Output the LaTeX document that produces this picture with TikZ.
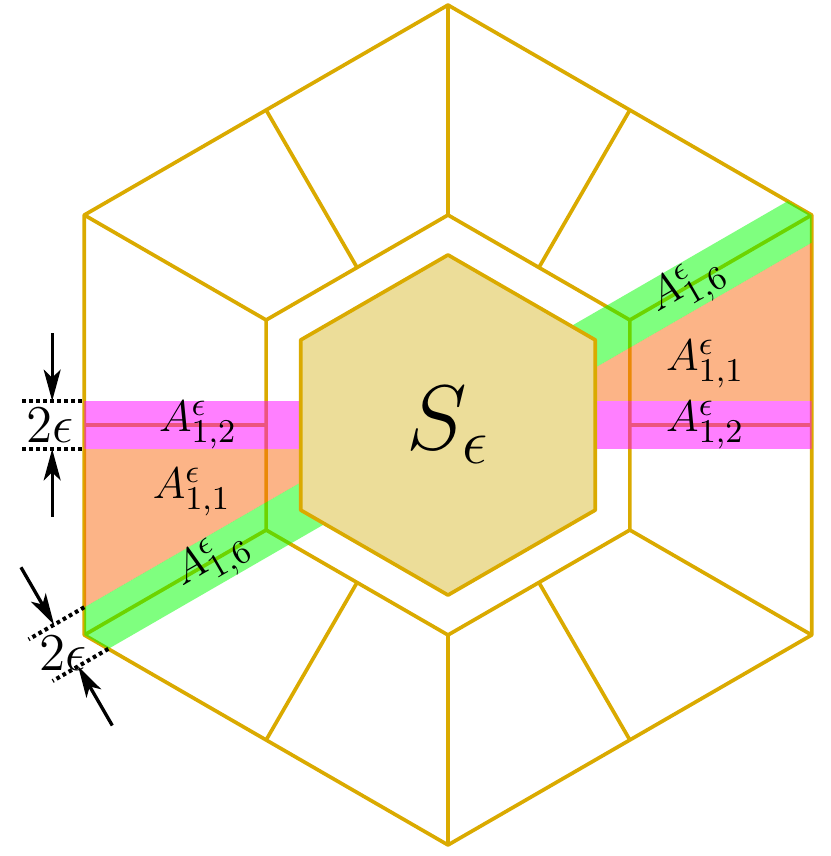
\documentclass[tikz,border=0pt]{standalone}
\usetikzlibrary{arrows.meta,calc}
\definecolor{gold}{RGB}{218,170,0}
\definecolor{hexfill}{RGB}{236,221,153}
\definecolor{bandpink}{RGB}{255,0,255}
\definecolor{bandgreen}{RGB}{0,255,0}
\definecolor{bandorange}{RGB}{250,105,15}
\begin{document}
\begin{tikzpicture}[x=1cm,y=1cm,
  edge/.style={draw=gold,line width=1pt,line join=round},
  dimline/.style={line width=1.1pt,dash pattern=on 1pt off 0.9pt},
  dimarrow/.style={line width=0.9pt,-{Stealth[length=8.5pt,width=4.6pt,inset=2.2pt]}},
  lab/.style={font=\fontsize{12.5}{14}\selectfont,inner sep=0pt},
  dimlab/.style={font=\fontsize{15.5}{17}\selectfont,inner sep=0pt},
]
\useasboundingbox (-4.267,-4.105) rectangle (3.648,4.048);
\def\eps{0.229}
% vertices
\foreach \a/\b [count=\i] in {90/60,30/0,-30/-60,-90/-120,-150/180,150/120} {
  \coordinate (O\i) at (\a:4);
  \coordinate (M\i) at (\a:2);
  \coordinate (I\i) at (\a:1.62);
  \coordinate (OE\i) at (\b:3.4641);
  \coordinate (ME\i) at (\b:1.7321);
}
% frame lines
\draw[edge] (O1)--(O2)--(O3)--(O4)--(O5)--(O6)--cycle;
\draw[edge] (M1)--(M2)--(M3)--(M4)--(M5)--(M6)--cycle;
\foreach \i in {1,...,6} {
  \draw[edge] (O\i)--(M\i);
  \draw[edge] (OE\i)--(ME\i);
}
% bands
\begin{scope}
  \clip (O1)--(O2)--(O3)--(O4)--(O5)--(O6)--cycle;
  \fill[bandpink,fill opacity=0.5] (-4.5,-\eps) rectangle (4.5,\eps);
  \fill[bandgreen,fill opacity=0.5,rotate=30] (-4.5,-\eps) rectangle (4.5,\eps);
\end{scope}
\fill[bandorange,fill opacity=0.5] (3.732*\eps,\eps) -- (3.4641,\eps) -- (3.4641,2-1.1547*\eps) -- cycle;
\fill[bandorange,fill opacity=0.5] (-3.732*\eps,-\eps) -- (-3.4641,-\eps) -- (-3.4641,-2+1.1547*\eps) -- cycle;
% inner hexagon
\filldraw[fill=hexfill,edge] (I1)--(I2)--(I3)--(I4)--(I5)--(I6)--cycle;
\node[font=\fontsize{24.5}{28}\selectfont,inner sep=0pt] (S) at (0,0) {$S_\epsilon$};
% labels
\node[lab] (a12l) at (-2.38,0) {$A^\epsilon_{1,2}$};
\node[lab] (a11l) at (-2.44,-0.64) {$A^\epsilon_{1,1}$};
\node[lab,rotate=30] (a16l) at (-2.24,-1.30) {$A^\epsilon_{1,6}$};
\node[lab,rotate=30] (a16r) at (2.29,1.31) {$A^\epsilon_{1,6}$};
\node[lab] (a11r) at (2.45,0.58) {$A^\epsilon_{1,1}$};
\node[lab] (a12r) at (2.45,0) {$A^\epsilon_{1,2}$};
% horizontal dimension
\coordinate (hu1) at (-4.057,\eps); \coordinate (hu2) at (-3.4641,\eps);
\coordinate (hl1) at (-4.057,-\eps); \coordinate (hl2) at (-3.4641,-\eps);
\draw[dimline] (hu1) -- (hu2);
\draw[dimline] (hl1) -- (hl2);
\node[dimlab] (h2e) at (-3.79,0) {$2\epsilon$};
\coordinate (hat) at (-3.77,0.876); \coordinate (hah) at (-3.77,\eps);
\coordinate (hbt) at (-3.77,-0.876); \coordinate (hbh) at (-3.77,-\eps);
\draw[dimarrow] (hat) -- (hah);
\draw[dimarrow] (hbt) -- (hbh);
% diagonal dimension
\begin{scope}[shift={(O5)},rotate=30]
  \coordinate (du1) at (0.577*\eps,\eps); \coordinate (du2) at (-0.48,\eps);
  \coordinate (dl1) at (0.577*\eps,-\eps); \coordinate (dl2) at (-0.48,-\eps);
  \draw[dimline] (du1) -- (du2);
  \draw[dimline] (dl1) -- (dl2);
  \node[dimlab] (d2e) at (-0.26,-0.05) {$2\epsilon$};
  \coordinate (dat) at (-0.2,0.86); \coordinate (dah) at (-0.2,\eps);
  \coordinate (dbt) at (-0.2,-0.88); \coordinate (dbh) at (-0.2,-\eps);
  \draw[dimarrow] (dat) -- (dah);
  \draw[dimarrow] (dbt) -- (dbh);
\end{scope}
\end{tikzpicture}
\end{document}
